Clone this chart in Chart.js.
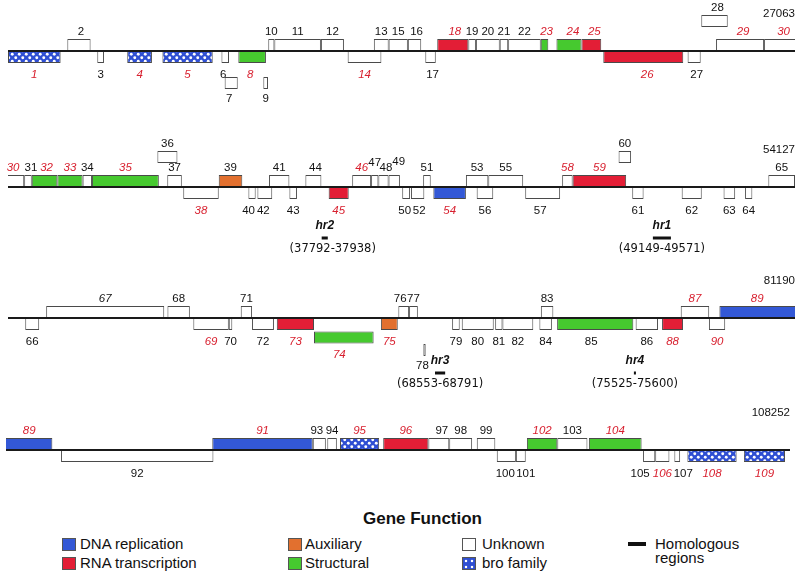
<!DOCTYPE html>
<html><head><meta charset="utf-8">
<script src="https://cdn.jsdelivr.net/npm/chart.js@4.4.1/dist/chart.umd.min.js"></script>
<style>
html,body{margin:0;padding:0;background:#fff;}
#wrap{position:relative;width:800px;height:572px;overflow:hidden;font-family:"Liberation Sans",Arial,sans-serif;color:#111;}
.row{position:absolute;left:0;width:800px;}
.sw{position:absolute;width:14px;height:13px;border:1px solid #555;box-sizing:border-box;}
.lt{position:absolute;font-size:15px;line-height:18px;white-space:nowrap;}
#ttl{position:absolute;left:363px;top:509px;font-weight:bold;font-size:17px;line-height:20px;}
</style></head><body>
<div id="wrap">
  <div class="row" style="top:0px;height:128px"><canvas id="row0" width="800" height="128"></canvas></div>
  <div class="row" style="top:128px;height:134px"><canvas id="row1" width="800" height="134"></canvas></div>
  <div class="row" style="top:262px;height:134px"><canvas id="row2" width="800" height="134"></canvas></div>
  <div class="row" style="top:396px;height:94px"><canvas id="row3" width="800" height="94"></canvas></div>
  <div id="legend"></div>
</div>
<script>
// ---------- DATA ----------
const rowStarts = [0, 27063, 54127, 81190];
const rowEnds   = [27063, 54127, 81190, 108252];

const geneNames = ['1','2','3','4','5','6','7','8','9','10','11','12','13','14','15','16','17','18','19','20',
 '21','22','23','24','25','26','27','28','29','30','31','32','33','34','35','36','37','38','39','40',
 '41','42','43','44','45','46','47','48','49','50','51','52','53','54','55','56','57','58','59','60',
 '61','62','63','64','65','66','67','68','69','70','71','72','73','74','75','76','77','78','79','80',
 '81','82','83','84','85','86','87','88','89','90','91','92','93','94','95','96','97','98','99','100',
 '101','102','103','104','105','106','107','108','109'];
const geneStart = [0,2040,3070,4100,5310,7340,7450,7920,8780,8950,9160,10760,12580,11680,13090,13750,14350,14760,15830,16090,
 16910,17200,18320,18860,19720,20470,23370,23840,24350,26000,27620,27880,28760,29630,29950,32200,32540,33090,34310,35330,
 36040,35640,36740,37290,38090,38900,39550,39800,40150,40620,41340,40920,42810,41690,43580,43180,44850,46120,46480,48060,
 48530,50230,51670,52410,53210,54720,55440,59610,60500,61720,62130,62520,63370,64650,66950,67550,67920,68410,69400,69730,
 70880,71130,72450,72400,73010,75710,77260,76620,78590,78230,88310,83090,91780,92280,92720,94210,95770,96490,97440,98130,
 98790,99170,100220,101310,103180,103600,104260,104710,106660];
const geneEnd = [1810,2840,3300,4950,7040,7600,7900,8870,8940,9160,10760,11550,13090,12840,13750,14210,14710,15830,16090,16910,
 17200,18320,18580,19720,20400,23220,23820,24750,26000,27620,27880,28760,29630,29950,32250,32890,33040,34310,35120,35580,
 36740,36150,37000,37840,38780,39550,39800,40150,40540,40890,41600,41380,43580,42810,44780,43750,46050,46480,48320,48490,
 48920,50920,52070,52660,54127,55200,59500,60380,61720,61840,62520,63270,64650,66700,67530,67920,68220,68490,69660,70830,
 71130,72190,72880,72830,75630,76480,78240,77340,82790,78790,91780,88350,92230,92610,94070,95770,96490,97280,98080,98790,
 99130,100220,101260,103130,103600,104090,104460,106410,108080];
// B = bro family, D = DNA replication, R = RNA transcription, A = auxiliary, S = structural, U = unknown
const geneFunction = ['B','U','U','B','B','U','U','S','U','U','U','U','U','U','U','U','U','R','U','U',
 'U','U','S','S','R','R','U','U','U','U','U','S','S','U','S','U','U','U','A','U',
 'U','U','U','U','R','U','U','U','U','U','U','U','U','D','U','U','U','U','R','U',
 'U','U','U','U','U','U','U','U','U','U','U','U','R','S','A','U','U','U','U','U',
 'U','U','U','U','S','U','U','R','D','U','D','U','U','U','B','R','U','U','U','U',
 'U','S','U','S','U','U','U','B','B'];
// 1 above the genome line, 2 second tier above, -1 below, -2 second tier below, -3 third tier below
const geneTier = [-1,1,-1,-1,-1,-1,-3,-1,-3,1,1,1,1,-1,1,1,-1,1,1,1,
 1,1,1,1,1,-1,-1,2,1,1,1,1,1,1,1,2,1,-1,1,-1,
 1,-1,-1,1,-1,1,1,1,1,-1,1,-1,1,-1,1,-1,-1,1,1,2,
 -1,-1,-1,-1,1,-1,1,1,-1,-1,1,-1,-1,-2,-1,1,1,-3,-1,-1,
 -1,-1,1,-1,-1,-1,1,-1,1,-1,1,-1,1,1,1,1,1,1,1,-1,
 -1,1,1,1,-1,-1,-1,-1,-1];
// 0 black upright, 1 red italic, 2 black italic
const geneLabelStyle = [1,0,0,1,1,0,0,1,0,0,0,0,0,1,0,0,0,1,0,0,
 0,0,1,1,1,1,0,0,1,1,0,1,1,0,1,0,0,1,0,0,
 0,0,0,0,1,1,0,0,0,0,0,0,0,1,0,0,0,1,1,0,
 0,0,0,0,0,0,2,0,1,0,0,0,1,1,1,0,0,0,0,0,
 0,0,0,0,0,0,1,1,1,1,1,0,0,0,1,1,0,0,0,0,
 0,1,0,1,0,1,0,1,1];

const hrNames  = ['hr2','hr1','hr3','hr4'];
const hrRanges = ['(37792-37938)','(49149-49571)','(68553-68791)','(75525-75600)'];
const hrStart  = [37850, 49240, 68810, 75650];
const hrEnd    = [38060, 49860, 69160, 75720];

const functionKeys   = ['D','R','A','U','S','B'];
const functionLabels = ['DNA replication','RNA transcription','Auxiliary','Unknown','Structural','bro family'];

// ---------- STYLE / LAYOUT ----------
const funcColor = {D:'#3358d6', R:'#e31e36', A:'#e2702f', U:'#ffffff', S:'#46c92f'};
function makeBro(){
  const c=document.createElement('canvas'); c.width=7; c.height=7;
  const g=c.getContext('2d');
  g.fillStyle='#2f4fd3'; g.fillRect(0,0,7,7);
  g.fillStyle='#ffffff';
  g.beginPath(); g.arc(1.75,1.75,1.45,0,Math.PI*2); g.fill();
  g.beginPath(); g.arc(5.25,5.25,1.45,0,Math.PI*2); g.fill();
  return c;
}
const broTile = makeBro();
const rowHeight = [128,134,134,94];
const rowLine   = [51,59,56,54];
const rowPad    = [{l:8,r:5},{l:8,r:5},{l:8,r:5},{l:6,r:10}];
const hrOffset  = [0,51,55,0];
const tierOffset = {'1':-6,'2':-30,'-1':6,'-2':19.5,'-3':32};
const labelDx = {'2':2,'6':-2,'7':-2,'8':-2,'16':2,'17':2,'18':2,'23':2,'24':4,'25':3,'26':4,'27':2.5,'28':3,'29':3,
  '0:30':4,'1:30':-3,'31':3,'32':2,
  '40':-3.5,'42':-1.5,'44':2,'48':2.5,'49':4.5,'50':-1.5,'52':1.5,'57':-2.5,'74':-4.5,'76':-3.5,'78':-2,'85':-4,
  '93':-2.5,'97':3,'100':-1,'101':5,'105':-9,'107':6};
const labelDy = {'47':-5,'49':-6};
const hrTextDx = {'hr2':8};
const FONT = '"Liberation Sans", Arial, sans-serif';

const labelPlugin = {
  id:'geneLabels',
  afterDatasetsDraw(chart){
    const ctx=chart.ctx, area=chart.chartArea, cfg=chart.options.plugins.geneLabels;
    ctx.save();
    ctx.textAlign='center'; ctx.textBaseline='middle';
    chart.data.datasets.forEach((ds,di)=>{
      if(!ds.kind || ds.kind==='line') return;
      const meta=chart.getDatasetMeta(di);
      meta.data.forEach((el,i)=>{
        const d=ds.data[i];
        const p=el.getProps(['x','y','base','height'],true);
        let l=Math.max(Math.min(p.x,p.base),area.left);
        let r=Math.min(Math.max(p.x,p.base),area.right);
        if(r<=l) return;
        const top=p.y-p.height/2, bot=p.y+p.height/2;
        if(ds.kind==='hr'){
          const cx=(l+r)/2;
          ctx.fillStyle='#111';
          ctx.font='italic bold 12px '+FONT;
          ctx.fillText(d.n, cx, top-10.5);
          ctx.font='11.5px "DejaVu Sans", sans-serif';
          ctx.fillText(d.txt, cx+(hrTextDx[d.n]||0), bot+10);
          return;
        }
        const rk=cfg.row+':'+d.n;
        const dx = (rk in labelDx) ? labelDx[rk] : (labelDx[d.n]||0);
        const cx=(l+r)/2+dx;
        let cy = d.t>0 ? top-7 : (d.t===-3 ? bot+10 : bot+11.5);
        cy += (labelDy[d.n]||0);
        ctx.font=(d.st? 'italic ':'')+'11.5px '+FONT;
        ctx.fillStyle = d.st===1 ? '#d8202f' : '#111';
        ctx.fillText(d.n, cx, cy);
      });
    });
    // row end coordinate
    const xs=chart.scales.x;
    ctx.font='11.5px '+FONT; ctx.fillStyle='#111'; ctx.textAlign='right';
    ctx.fillText(String(xs.max), area.right, cfg.lineY-37);
    ctx.restore();
  }
};

function buildRow(r){
  const Ly=rowLine[r], s0=rowStarts[r], s1=rowEnds[r];
  const pattern=document.getElementById('row'+r).getContext('2d').createPattern(broTile,'repeat');
  const datasets=[];
  datasets.push({kind:'line', label:'genome', data:[{x:[s0,s1], y:Ly}],
    backgroundColor:'#1a1a1a', borderWidth:0, barThickness:2});
  const hrData=[];
  hrNames.forEach((n,i)=>{ if(hrEnd[i]>s0 && hrStart[i]<s1) hrData.push({x:[hrStart[i],hrEnd[i]], y:Ly+hrOffset[r], n, txt:hrRanges[i]}); });
  datasets.push({kind:'hr', label:'Homologous regions', data:hrData, backgroundColor:'#111', borderWidth:0, barThickness:3});
  functionKeys.forEach((k,fi)=>{
    const data=[];
    geneNames.forEach((n,i)=>{
      if(geneFunction[i]!==k) return;
      if(geneEnd[i]<=s0 || geneStart[i]>=s1) return;
      data.push({x:[geneStart[i],geneEnd[i]], y:Ly+tierOffset[String(geneTier[i])], n, t:geneTier[i], st:geneLabelStyle[i]});
    });
    datasets.push({kind:'gene', label:functionLabels[fi], data,
      backgroundColor: k==='B'? pattern : funcColor[k], borderColor:'#4a4a4a', borderWidth:1, barThickness:12});
  });
  new Chart(document.getElementById('row'+r), {
    type:'bar',
    data:{datasets},
    options:{
      indexAxis:'y', responsive:false, animation:false, devicePixelRatio:1,
      layout:{padding:{left:rowPad[r].l, right:rowPad[r].r, top:0, bottom:0}},
      datasets:{bar:{grouped:false, borderSkipped:false, clip:0, inflateAmount:0}},
      scales:{
        x:{type:'linear', min:s0, max:s1, display:false},
        y:{type:'linear', min:0, max:rowHeight[r], reverse:true, display:false, offset:false}
      },
      plugins:{legend:{display:false}, tooltip:{enabled:false}, geneLabels:{lineY:Ly, row:r}}
    },
    plugins:[labelPlugin]
  });
}
[0,1,2,3].forEach(buildRow);

// ---------- LEGEND (HTML) ----------
const lg=document.getElementById('legend');
const cols=[{sw:62,tx:80},{sw:288,tx:305},{sw:462,tx:482}];
const rowsY=[544,563];
const place=[[0,0],[0,1],[1,0],[2,0],[1,1],[2,1]]; // D,R,A,U,S,B -> [col,row]
let html='<div id="ttl">Gene Function</div>';
functionKeys.forEach((k,i)=>{
  const c=cols[place[i][0]], y=rowsY[place[i][1]];
  const bg = k==='B' ? 'background:#2f4fd3 radial-gradient(circle,#fff 1.4px,transparent 1.6px) 0 0/6px 6px;' : 'background:'+funcColor[k]+';';
  html+='<div class="sw" style="left:'+c.sw+'px;top:'+(y-6.5)+'px;'+bg+'"></div>';
  html+='<div class="lt" style="left:'+c.tx+'px;top:'+(y-9)+'px">'+functionLabels[i]+'</div>';
});
html+='<div style="position:absolute;left:628px;top:'+(rowsY[0]-2)+'px;width:18px;height:4px;background:#111"></div>';
html+='<div class="lt" style="left:655px;top:'+(rowsY[0]-9)+'px">Homologous</div>';
html+='<div class="lt" style="left:655px;top:'+(rowsY[0]+5)+'px">regions</div>';
lg.innerHTML=html;
</script>
</body></html>
